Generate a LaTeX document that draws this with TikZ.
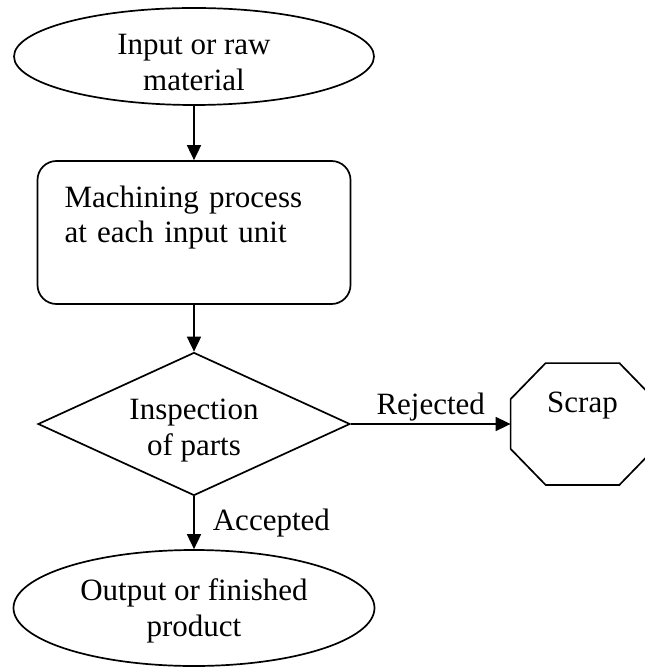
\documentclass[tikz,border=0pt]{standalone}
\usepackage{fontspec}
\setmainfont{Liberation Serif}
\usetikzlibrary{shapes.geometric,arrows.meta}

\tikzset{
  flow/.style={draw, line width=0.85pt, inner sep=0pt, align=center,
    font=\fontsize{15.5}{17.75}\selectfont},
  terminal/.style={flow, ellipse},
  process/.style={flow, rectangle, rounded corners=9.5pt, align=left, text width=129.5pt},
  decision/.style={flow, diamond, aspect=2.2},
  stopbox/.style={inner sep=0pt, align=center, font=\fontsize{15.5}{17.75}\selectfont},
  link/.style={-{Triangle[length=7.5pt,width=7pt]}, line width=0.85pt},
  tag/.style={font=\fontsize{15.5}{17.75}\selectfont, inner sep=1pt}
}

\begin{document}
\begin{tikzpicture}[auto, x=0.5pt, y=-0.5pt]

    \useasboundingbox (0,0) rectangle (644,667);

    \node [terminal, minimum width=180pt, minimum height=48.5pt, text height=34pt] (raw) at (194,56.5) {Input or raw\\material};
    \node [process, minimum width=156.5pt, minimum height=71.5pt, text depth=36pt] (mach) at (194,232.5) {Machining process\\at each input unit};
    \node [decision, minimum width=156pt, minimum height=71.5pt, text height=34.4pt] (insp) at (194,424) {Inspection\\of parts};
    \node [stopbox, minimum width=71.5pt, minimum height=60.5pt, text depth=21.8pt] (scrap) at (582.5,424) {Scrap};
    \node [terminal, minimum width=180.5pt, minimum height=58pt, text height=31.4pt] (out) at (194,608) {Output or finished\\product};

    \draw [line width=0.85pt] ([xshift=17.5pt]scrap.north west) -- ([xshift=-17.5pt]scrap.north east)
      -- ([yshift=-18pt]scrap.north east) -- ([yshift=18pt]scrap.south east)
      -- ([xshift=-17.5pt]scrap.south east) -- ([xshift=17.5pt]scrap.south west)
      -- ([yshift=18pt]scrap.south west) -- ([yshift=-18pt]scrap.north west) -- cycle;

    \draw [link] (raw) to (mach);
    \draw [link] (mach) to (insp);
    \draw [link] (insp) to node [tag] {Rejected} (scrap);
    \draw [link] (insp) to node [tag, inner xsep=9pt] {Accepted} (out);

\end{tikzpicture}
\end{document}
